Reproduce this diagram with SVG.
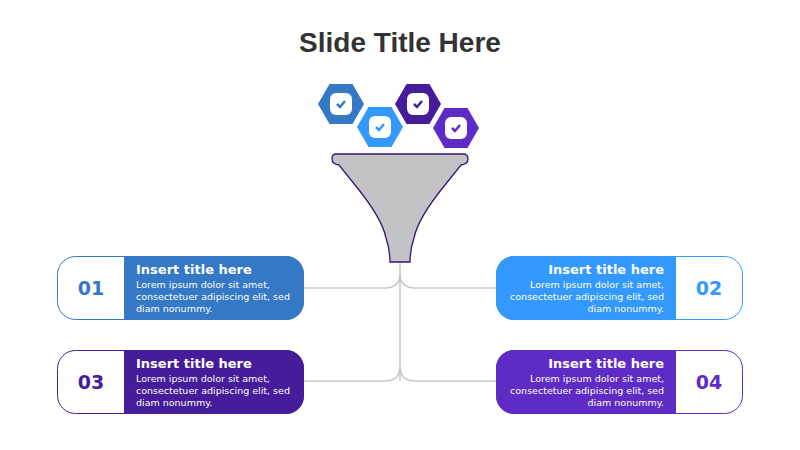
<svg xmlns="http://www.w3.org/2000/svg" width="800" height="450" viewBox="0 0 800 450">
<style>
.t{font-family:"DejaVu Sans",sans-serif;font-weight:bold;font-size:13px;fill:#fff}
.b{font-family:"DejaVu Sans",sans-serif;font-size:9.5px;fill:#fff}
.n{font-family:"DejaVu Sans",sans-serif;font-weight:bold;font-size:19px}
.c{fill:none;stroke:#c8c8c8;stroke-width:1.5}
</style>
<defs>
<g id="hex"><polygon points="-23,0 -11.5,-20 11.5,-20 23,0 11.5,20 -11.5,20"/><rect x="-11" y="-11" width="22" height="22" rx="6" fill="#fff"/></g>
</defs>
<text x="400" y="52" text-anchor="middle" font-family="Liberation Sans,sans-serif" font-weight="bold" font-size="28" fill="#333">Slide Title Here</text>
<g id="connectors">
<path class="c" d="M400,262 V381"/>
<path class="c" d="M304,288 H385 Q400,288 400,273 Q400,288 415,288 H496"/>
<path class="c" d="M304,381 H385 Q400,381 400,366 Q400,381 415,381 H496"/>
</g>
<g id="icons">
<g transform="translate(341,104)" fill="#3478C6"><use href="#hex"/><path d="M-4,0 L-1,3 L4,-3" stroke="#3478C6" stroke-width="2.5" fill="none"/></g>
<g transform="translate(418,104)" fill="#451D9A"><use href="#hex"/><path d="M-4,0 L-1,3 L4,-3" stroke="#451D9A" stroke-width="2.5" fill="none"/></g>
<g transform="translate(380,127)" fill="#3399FF"><use href="#hex"/><path d="M-4,0 L-1,3 L4,-3" stroke="#3399FF" stroke-width="2.5" fill="none"/></g>
<g transform="translate(456,128)" fill="#5E2BC4"><use href="#hex"/><path d="M-4,0 L-1,3 L4,-3" stroke="#5E2BC4" stroke-width="2.5" fill="none"/></g>
</g>
<g id="funnel">
<path d="M336,154 H463 Q468,154 468,159 Q468,164 461,165 L445,185 Q418,218 414,238 Q410,250 410,262 H390 Q390,250 386,238 Q382,218 355,185 L339,165 Q332,164 332,159 Q332,154 336,154 Z" fill="#c3c3c5" stroke="#3a1570" stroke-width="1.3"/>
</g>
<g id="card1">
<rect x="57.5" y="256.5" width="246" height="63" rx="18" fill="#fff" stroke="#3478C6"/>
<path d="M124,256 H286 A18,18 0 0 1 304,274 V302 A18,18 0 0 1 286,320 H124 Z" fill="#3478C6"/>
<text class="n" x="91" y="295" text-anchor="middle" fill="#3478C6">01</text>
<text class="t" x="136" y="274">Insert title here</text>
<text class="b" x="136" y="288">Lorem ipsum dolor sit amet,</text>
<text class="b" x="136" y="300">consectetuer adipiscing elit, sed</text>
<text class="b" x="136" y="312">diam nonummy.</text>
</g>
<g id="card2">
<rect x="496.5" y="256.5" width="246" height="63" rx="18" fill="#fff" stroke="#3399FF"/>
<path d="M676,256 H514 A18,18 0 0 0 496,274 V302 A18,18 0 0 0 514,320 H676 Z" fill="#3399FF"/>
<text class="n" x="709" y="295" text-anchor="middle" fill="#3399FF">02</text>
<text class="t" x="664" y="274" text-anchor="end">Insert title here</text>
<text class="b" x="664" y="288" text-anchor="end">Lorem ipsum dolor sit amet,</text>
<text class="b" x="664" y="300" text-anchor="end">consectetuer adipiscing elit, sed</text>
<text class="b" x="664" y="312" text-anchor="end">diam nonummy.</text>
</g>
<g id="card3">
<rect x="57.5" y="350.5" width="246" height="63" rx="18" fill="#fff" stroke="#451D9A"/>
<path d="M124,350 H286 A18,18 0 0 1 304,368 V396 A18,18 0 0 1 286,414 H124 Z" fill="#451D9A"/>
<text class="n" x="91" y="389" text-anchor="middle" fill="#451D9A">03</text>
<text class="t" x="136" y="368">Insert title here</text>
<text class="b" x="136" y="382">Lorem ipsum dolor sit amet,</text>
<text class="b" x="136" y="394">consectetuer adipiscing elit, sed</text>
<text class="b" x="136" y="406">diam nonummy.</text>
</g>
<g id="card4">
<rect x="496.5" y="350.5" width="246" height="63" rx="18" fill="#fff" stroke="#5E2BC4"/>
<path d="M676,350 H514 A18,18 0 0 0 496,368 V396 A18,18 0 0 0 514,414 H676 Z" fill="#5E2BC4"/>
<text class="n" x="709" y="389" text-anchor="middle" fill="#5E2BC4">04</text>
<text class="t" x="664" y="368" text-anchor="end">Insert title here</text>
<text class="b" x="664" y="382" text-anchor="end">Lorem ipsum dolor sit amet,</text>
<text class="b" x="664" y="394" text-anchor="end">consectetuer adipiscing elit, sed</text>
<text class="b" x="664" y="406" text-anchor="end">diam nonummy.</text>
</g>
</svg>
